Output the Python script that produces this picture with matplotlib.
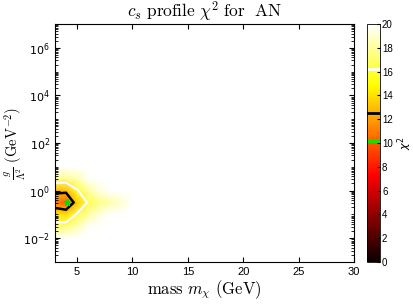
import numpy as np
import matplotlib
matplotlib.use("Agg")
import matplotlib.pyplot as plt
from matplotlib.ticker import FixedLocator, FuncFormatter

# ---- data ----
mass = [3, 4, 5, 6, 7, 8, 9, 10, 11, 12]               # GeV
log_g = [-3.0, -2.5, -2.0, -1.5, -1.0, -0.5, 0.0, 0.5, 1.0, 1.5, 2.0]   # log10(g/Lambda^2)
# chi2[i_logg][j_mass]
chi2 = [
    [25.0, 25.0, 25.0, 25.0, 25.0, 25.0, 25.0, 25.0, 25.0, 25.0],
    [22.5, 22.5, 22.5, 23.0, 24.0, 25.0, 25.0, 25.0, 25.0, 25.0],
    [20.2, 20.2, 20.3, 21.0, 22.0, 23.0, 24.0, 25.0, 25.0, 25.0],
    [17.2, 17.3, 18.5, 19.8, 20.8, 21.5, 22.5, 24.0, 25.0, 25.0],
    [14.3, 14.0, 16.5, 18.0, 19.3, 20.5, 21.5, 22.0, 25.0, 25.0],
    [11.0, 10.2, 13.5, 16.5, 17.5, 18.3, 19.0, 20.1, 25.0, 25.0],
    [13.0, 13.0, 16.0, 18.0, 19.3, 20.5, 21.5, 22.0, 25.0, 25.0],
    [18.0, 17.8, 18.5, 19.8, 20.8, 21.5, 22.5, 24.0, 25.0, 25.0],
    [20.3, 20.3, 20.3, 21.0, 22.0, 23.0, 24.0, 25.0, 25.0, 25.0],
    [23.0, 23.0, 23.0, 24.0, 25.0, 25.0, 25.0, 25.0, 25.0, 25.0],
    [25.0, 25.0, 25.0, 25.0, 25.0, 25.0, 25.0, 25.0, 25.0, 25.0],
]
best_fit = (4.05, -0.48)          # (mass, log10 g)
chi2_min = 10.2
contour_levels = [12.5, 16.2]     # min + 2.3, min + 6.0
cbar_ticks = [0, 2, 4, 6, 8, 10, 12, 14, 16, 18, 20]

# ---- figure ----
fig = plt.figure(figsize=(4.13, 3.05), dpi=100)
ax = fig.add_axes([0.133, 0.141, 0.724, 0.780])
cax = fig.add_axes([0.889, 0.141, 0.031, 0.780])

cmap = plt.get_cmap("hot").copy()
cmap.set_over("white")
M, L = np.meshgrid(mass, log_g)
Z = np.array(chi2)
pm = ax.pcolormesh(M, L, Z, shading="gouraud", cmap=cmap, vmin=0, vmax=20)
ax.contour(M, L, Z, levels=[contour_levels[0]], colors="black", linewidths=1.8)
ax.contour(M, L, Z, levels=[contour_levels[1]], colors="white", linewidths=1.5)
ax.plot([best_fit[0]], [best_fit[1]], marker="*", color="#00dd00", ms=5, ls="none")

ax.set_xlim(3, 30)
ax.set_ylim(-3, 7)
ax.set_xticks([5, 10, 15, 20, 25, 30])
ax.yaxis.set_major_locator(FixedLocator([-2, 0, 2, 4, 6]))
minor = [np.log10(d) + e for e in range(-3, 7) for d in range(1, 10)]
ax.yaxis.set_minor_locator(FixedLocator(minor))
ax.yaxis.set_major_formatter(FuncFormatter(lambda v, p: r"$10^{%d}$" % round(v)))
ax.tick_params(which="both", direction="in", top=True, right=True, labelsize=8)
ax.tick_params(which="major", length=3.5)
ax.tick_params(which="minor", length=2)
for lab in ax.get_xticklabels() + ax.get_yticklabels():
    lab.set_fontfamily("Liberation Sans")

ax.set_title(r"$c_s\ \mathrm{profile}\ \chi^2\ \mathrm{for}\ \ \mathrm{AN}$",
             fontsize=12.5, math_fontfamily="cm", pad=5)
ax.set_xlabel(r"$\mathrm{mass}\ m_\chi\ (\mathrm{GeV})$", fontsize=12,
              math_fontfamily="cm", labelpad=1)
ax.set_ylabel(r"$\frac{g}{\Lambda^2}\ (\mathrm{GeV}^{-2})$", fontsize=10.5,
              math_fontfamily="cm", va="center")
ax.yaxis.set_label_coords(-0.135, 0.5)

cb = fig.colorbar(pm, cax=cax, ticks=cbar_ticks)
cb.outline.set_linewidth(0.6)
cax.tick_params(labelsize=7, length=2, direction="in", pad=1.5)
for lab in cax.get_yticklabels():
    lab.set_fontfamily("Liberation Sans")
cax.axhline(chi2_min, color="#00ee00", lw=2)
cax.axhline(contour_levels[0], color="black", lw=2)
cax.axhline(contour_levels[1], color="white", lw=2)
cb.set_label(r"$\chi^2$", fontsize=8, va="center")
cax.yaxis.set_label_coords(2.95, 0.5)

fig.savefig("out.png", dpi=100)
